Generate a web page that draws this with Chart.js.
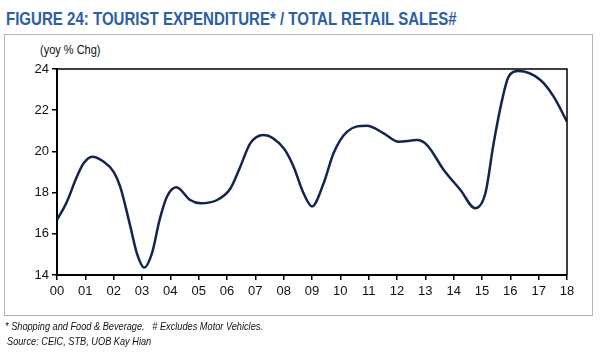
<!DOCTYPE html>
<html>
<head>
<meta charset="utf-8">
<script src="https://cdn.jsdelivr.net/npm/chart.js@4"></script>
<style>
  html, body { margin:0; padding:0; background:#fff; }
  #wrap { position:relative; width:600px; height:360px; overflow:hidden; }
  #title { position:absolute; left:6px; top:9px; font-family:"Liberation Sans",Arial,sans-serif; font-weight:bold; font-size:17.5px; color:#2b5fa6; white-space:nowrap; transform:scaleX(0.86); transform-origin:left top; }
  #frame { position:absolute; left:4px; top:34px; width:589px; height:282px; border:1.5px solid #b4b4b4; box-sizing:border-box; }
  #unit { position:absolute; left:40px; top:43px; font-family:"Liberation Sans",Arial,sans-serif; font-size:12.5px; color:#111; white-space:nowrap; transform:scaleX(0.88); transform-origin:left top; }
  .foot { position:absolute; font-family:"Liberation Sans",Arial,sans-serif; font-style:italic; font-size:11.5px; color:#111; white-space:nowrap; transform:scaleX(0.8); transform-origin:left top; }
  #c { position:absolute; left:0; top:0; }
</style>
</head>
<body>
<div id="wrap">
  <div id="title">FIGURE 24: TOURIST EXPENDITURE* / TOTAL RETAIL SALES#</div>
  <div id="frame"></div>
  <div id="unit">(yoy % Chg)</div>
  <canvas id="c" width="600" height="360"></canvas>
  <div class="foot" style="left:5px; top:320px;">* Shopping and Food &amp; Beverage.&nbsp;&nbsp;&nbsp;# Excludes Motor Vehicles.</div>
  <div class="foot" style="left:7px; top:335px;">Source: CEIC, STB, UOB Kay Hian</div>
</div>
<script>
// Data (x = year offset from 2000, y = yoy % change)
const years  = [0, 0.35, 0.7, 0.94, 1.24, 1.65, 2.0, 2.23, 2.59, 2.82, 3.08, 3.35, 3.62, 3.88, 4.21, 4.7, 5.06, 5.65, 6.12, 6.47, 6.82, 7.29, 8.0, 8.35, 8.7, 9.0, 9.41, 9.76, 10.24, 10.94, 11.53, 12.06, 12.71, 13.06, 13.65, 14.24, 14.76, 15.12, 15.41, 15.71, 15.94, 16.29, 17.06, 17.53, 18.0];
const values = [16.67, 17.56, 18.77, 19.42, 19.74, 19.5, 19.01, 18.29, 16.35, 15.05, 14.36, 15.05, 16.67, 17.8, 18.26, 17.64, 17.48, 17.64, 18.2, 19.26, 20.39, 20.8, 20.15, 19.26, 17.97, 17.33, 18.45, 19.91, 20.96, 21.25, 20.88, 20.47, 20.55, 20.31, 19.1, 18.13, 17.24, 17.97, 20.39, 22.5, 23.63, 23.9, 23.47, 22.66, 21.44];
const xTickLabels = ["00","01","02","03","04","05","06","07","08","09","10","11","12","13","14","15","16","17","18"];
const yTickValues = [14, 16, 18, 20, 22, 24];

const points = years.map((x, i) => ({ x: x, y: values[i] }));

const frameBorder = {
  id: 'frameBorder',
  afterDraw(chart) {
    const { ctx, chartArea: a } = chart;
    ctx.save();
    ctx.strokeStyle = '#000';
    ctx.lineWidth = 1.5;
    ctx.beginPath();
    ctx.moveTo(a.left, a.top);
    ctx.lineTo(a.right, a.top);
    ctx.lineTo(a.right, a.bottom);
    ctx.stroke();
    ctx.restore();
  }
};

new Chart(document.getElementById('c'), {
  type: 'line',
  data: {
    datasets: [{
      data: points,
      borderColor: '#14234f',
      borderWidth: 2.5,
      pointRadius: 0,
      cubicInterpolationMode: 'monotone',
      fill: false
    }]
  },
  options: {
    responsive: false,
    animation: false,
    layout: { padding: { left: 0, right: 33, top: 69, bottom: 0 } },
    plugins: { legend: { display: false }, tooltip: { enabled: false } },
    scales: {
      x: {
        type: 'linear',
        min: 0, max: 18,
        afterFit(s) { s.height = 85; },
        afterBuildTicks(s) { s.ticks = xTickLabels.map((_, i) => ({ value: i })); },
        ticks: {
          autoSkip: false, maxRotation: 0, padding: 4,
          color: '#111',
          font: { family: 'Liberation Sans, Arial, sans-serif', size: 13 },
          callback: (v) => xTickLabels[v]
        },
        grid: { drawOnChartArea: false, tickLength: 5, color: '#000', lineWidth: 1.5 },
        border: { color: '#000', width: 2 }
      },
      y: {
        min: 14, max: 24,
        afterFit(s) { s.width = 57; },
        afterBuildTicks(s) { s.ticks = yTickValues.map(v => ({ value: v })); },
        ticks: {
          padding: 3,
          color: '#111',
          font: { family: 'Liberation Sans, Arial, sans-serif', size: 13 }
        },
        grid: { drawOnChartArea: false, tickLength: 5, color: '#000', lineWidth: 1.5 },
        border: { color: '#000', width: 2 }
      }
    }
  },
  plugins: [frameBorder]
});
</script>
</body>
</html>
